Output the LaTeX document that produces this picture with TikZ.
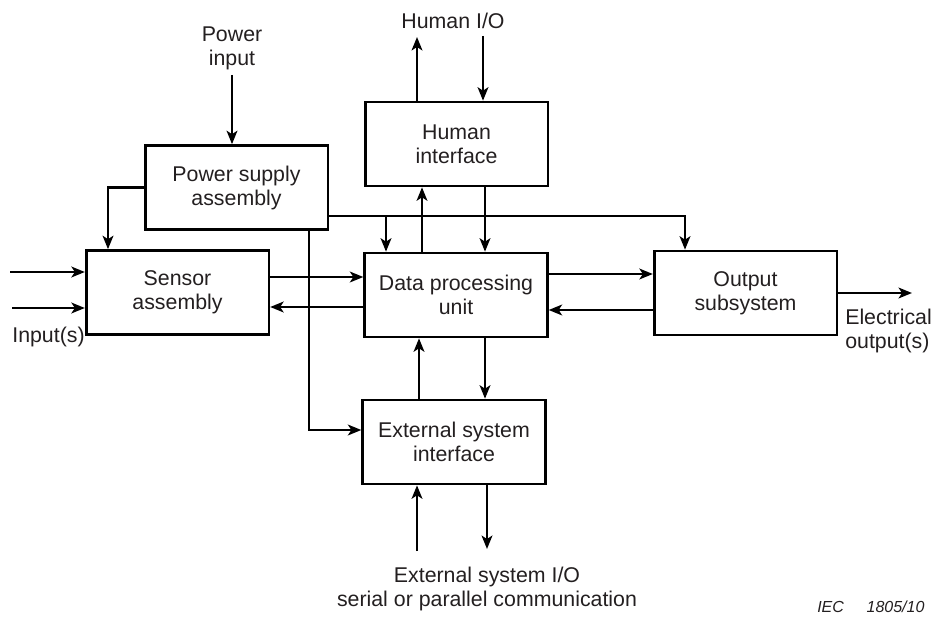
\documentclass[tikz,border=0pt]{standalone}
\usepackage{fontspec}
\setmainfont{Liberation Sans}
\usetikzlibrary{arrows.meta,calc}
\definecolor{txt}{HTML}{231F20}
\begin{document}
\begin{tikzpicture}[x=0.75pt,y=-0.75pt,
  font=\fontsize{16}{18}\selectfont,
  box/.style={draw, line width=2pt, minimum width=137pt, minimum height=63pt, inner sep=0pt, align=center, text=txt},
  lbl/.style={text=txt, align=center, inner sep=0pt},
  wire/.style={line width=1.9pt},
  arr/.style={wire, -{Stealth[length=10pt,width=8pt,inset=2.5pt]}},
]
\useasboundingbox (0,0) rectangle (931,617);

% boxes
\node[box] (ps)  at (236.5,187.5) {Power supply\\assembly};
\node[box] (sen) at (177.5,292.5) {Sensor\\assembly};
\node[box] (hi)  at (456.5,144)   {Human\\interface};
\node[box] (dpu) at (456,295)     {Data processing\\unit};
\node[box] (ext) at (454,442)     {External system\\interface};
\node[box] (out) at (745.5,293)   {Output\\subsystem};

% labels
\node[lbl] (pinl) at (232,48.5) {Power\\input};
\node[lbl] (hio)  at (453,21)   {Human I/O};
\node[lbl] (inp)  at (48.5,337) {Input(s)};
\node[lbl] (eio)  at (487,589)  {External system I/O\\serial or parallel communication};
\node[lbl, align=left, anchor=west] (eol) at (845,331) {Electrical\\output(s)};
\node[anchor=base west, font=\fontsize{12}{14}\selectfont\itshape, text=txt, inner sep=0pt] (iec) at (817,612) {IEC\hspace{17pt}1805/10};

% power input
\coordinate (pin) at (232,75);
\draw[arr] (pin) -- (pin |- ps.north);

% human I/O
\coordinate (hu) at (417,37);
\draw[arr] (hu |- hi.north) -- (hu);
\coordinate (hd) at (483,36);
\draw[arr] (hd) -- (hd |- hi.north);

% power distribution
\coordinate (psl) at (108,0);
\draw[arr] (ps.west) -| (psl |- sen.north);
\coordinate (bus) at ($(ps.south east)+(0,-15)$);
\coordinate (oin) at (685,0);
\draw[arr] (bus) -| (oin |- out.north);
\coordinate (din) at (386,0);
\draw[arr] (din |- bus) -- (din |- dpu.north);
\coordinate (pdown) at (309,0);
\coordinate (erow) at (0,430);
\draw[arr] (pdown |- ps.south) |- (erow -| ext.west);

% inputs
\coordinate (i1) at (10,272);
\draw[arr] (i1) -- (i1 -| sen.west);
\coordinate (i2) at (12,308);
\draw[arr] (i2) -- (i2 -| sen.west);

% sensor <-> dpu
\coordinate (r1) at (0,277);
\draw[arr] (r1 -| sen.east) -- (r1 -| dpu.west);
\coordinate (r2) at (0,307);
\draw[arr] (r2 -| dpu.west) -- (r2 -| sen.east);

% dpu <-> output
\coordinate (r3) at (0,274);
\draw[arr] (r3 -| dpu.east) -- (r3 -| out.west);
\coordinate (r4) at (0,310);
\draw[arr] (r4 -| out.west) -- (r4 -| dpu.east);

% dpu <-> human interface
\coordinate (c1) at (422,0);
\draw[arr] (c1 |- dpu.north) -- (c1 |- hi.south);
\coordinate (c2) at (485,0);
\draw[arr] (c2 |- hi.south) -- (c2 |- dpu.north);

% dpu <-> external
\coordinate (c3) at (419,0);
\draw[arr] (c3 |- ext.north) -- (c3 |- dpu.south);
\coordinate (c4) at (485,0);
\draw[arr] (c4 |- dpu.south) -- (c4 |- ext.north);

% external I/O
\coordinate (eu) at (417,551);
\draw[arr] (eu) -- (eu |- ext.south);
\coordinate (ed) at (487,549);
\draw[arr] (ed |- ext.south) -- (ed);

% electrical output
\coordinate (eo) at (912,0);
\draw[arr] (out.east) -- (out.east -| eo);
\end{tikzpicture}
\end{document}
